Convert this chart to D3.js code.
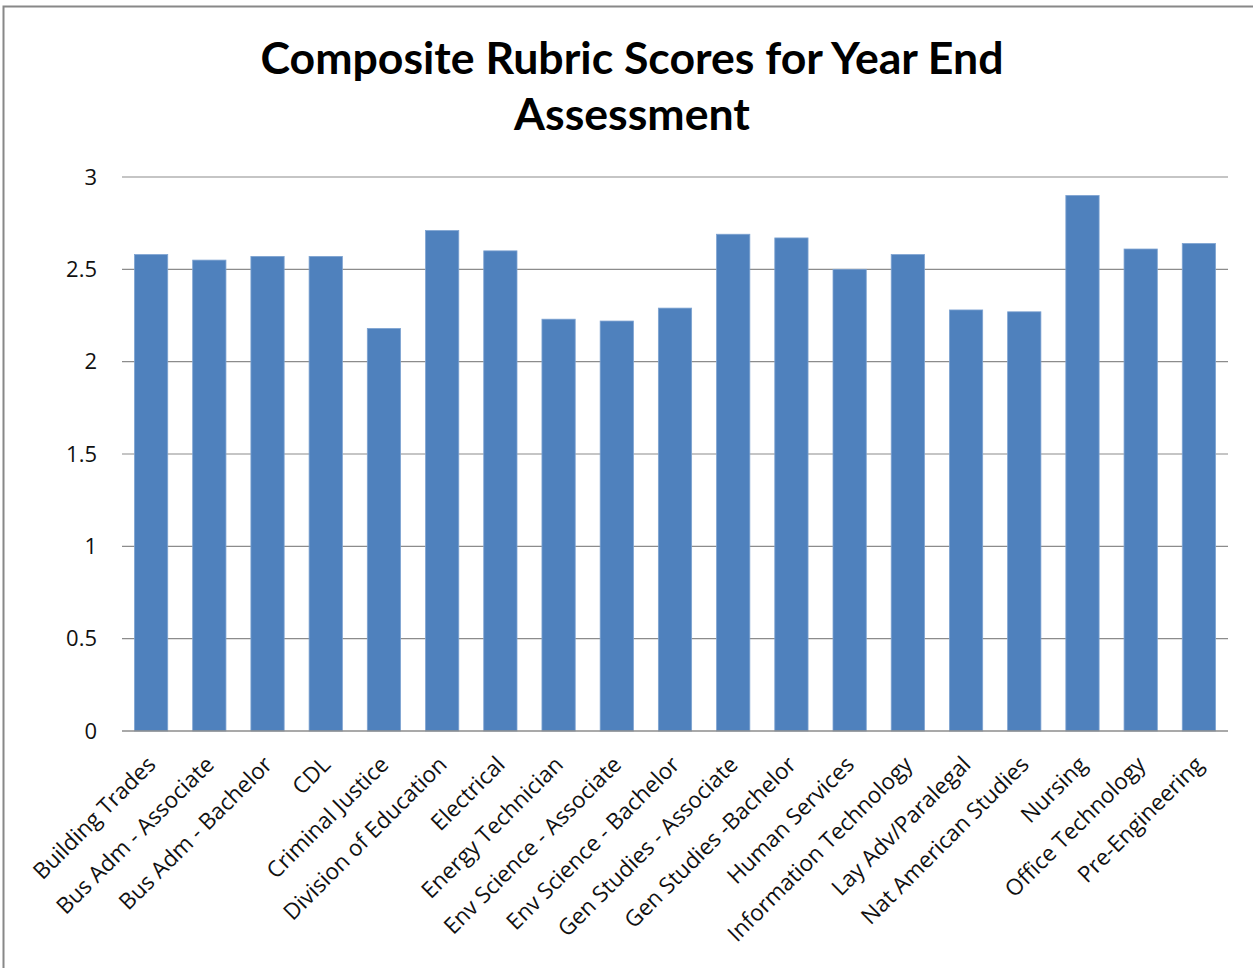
<!DOCTYPE html>
<html>
<head>
<meta charset="utf-8">
<script src="https://cdn.jsdelivr.net/npm/d3@7"></script>
<style>
  html, body { margin: 0; padding: 0; background: #fff; }
  svg { display: block; }
</style>
</head>
<body>
<script>
const categories = [
  "Building Trades", "Bus Adm - Associate", "Bus Adm - Bachelor", "CDL",
  "Criminal Justice", "Division of Education", "Electrical", "Energy Technician",
  "Env Science - Associate", "Env Science - Bachelor", "Gen Studies - Associate",
  "Gen Studies -Bachelor", "Human Services", "Information Technology",
  "Lay Adv/Paralegal", "Nat American Studies", "Nursing", "Office Technology",
  "Pre-Engineering"
];
const scores = [2.58, 2.55, 2.57, 2.57, 2.18, 2.71, 2.60, 2.23, 2.22, 2.29,
                2.69, 2.67, 2.50, 2.58, 2.28, 2.27, 2.90, 2.61, 2.64];
const yTicks = [0, 0.5, 1, 1.5, 2, 2.5, 3];
const titleLines = ["Composite Rubric Scores for Year End", "Assessment"];

const W = 1253, H = 968;
const plot = { left: 122, right: 1228, top: 177, bottom: 731 };

const svg = d3.select("body").append("svg").attr("width", W).attr("height", H);

// outer chart border
svg.append("rect").attr("x", 3.5).attr("y", 6.5).attr("width", W + 10).attr("height", H + 10)
  .attr("fill", "none").attr("stroke", "#888").attr("stroke-width", 2);

const x = d3.scaleBand().domain(categories).range([plot.left, plot.right])
  .paddingInner(0.4286).paddingOuter(0.2143);
const y = d3.scaleLinear().domain([0, 3]).range([plot.bottom, plot.top]);

// gridlines
svg.append("g").selectAll("line").data(yTicks.filter(d => d > 0)).join("line")
  .attr("x1", plot.left).attr("x2", plot.right)
  .attr("y1", d => y(d)).attr("y2", d => y(d))
  .attr("stroke", "#8c8c8c").attr("stroke-width", 1.2);

// y axis labels
const yAxis = d3.axisLeft(y).tickValues(yTicks).tickSize(0).tickPadding(25)
  .tickFormat(d => d3.format("")(d));
const yg = svg.append("g").attr("transform", `translate(${plot.left},0)`).call(yAxis);
yg.select(".domain").remove();
yg.selectAll("text").attr("font-family", "'Open Sans', sans-serif").attr("font-size", 22)
  .attr("fill", "#111");

// bars
svg.append("g").selectAll("rect").data(categories).join("rect")
  .attr("x", d => x(d)).attr("width", x.bandwidth())
  .attr("y", (d, i) => y(scores[i])).attr("height", (d, i) => y(0) - y(scores[i]))
  .attr("fill", "#4F81BD").attr("stroke", "#7ea3d1").attr("stroke-width", 0.8);

// x axis line
svg.append("line").attr("x1", plot.left).attr("x2", plot.right)
  .attr("y1", plot.bottom).attr("y2", plot.bottom)
  .attr("stroke", "#8c8c8c").attr("stroke-width", 1.4);

// x labels
const xAxis = d3.axisBottom(x).tickSize(0).tickPadding(0);
const xg = svg.append("g").attr("transform", `translate(0,${plot.bottom})`).call(xAxis);
xg.select(".domain").remove();
xg.selectAll("text")
  .attr("font-family", "'Open Sans', sans-serif").attr("font-size", 22.5).attr("fill", "#111")
  .attr("text-anchor", "end").attr("dy", null).attr("y", null)
  .attr("transform", "translate(6,35) rotate(-45)");

// title
svg.append("text").attr("x", 632).attr("text-anchor", "middle")
  .attr("font-family", "Lato, sans-serif").attr("font-weight", "bold").attr("font-size", 44.6)
  .attr("fill", "#000")
  .selectAll("tspan").data(titleLines).join("tspan")
  .attr("x", 632).attr("y", (d, i) => 74 + i * 56).text(d => d);
</script>
</body>
</html>
